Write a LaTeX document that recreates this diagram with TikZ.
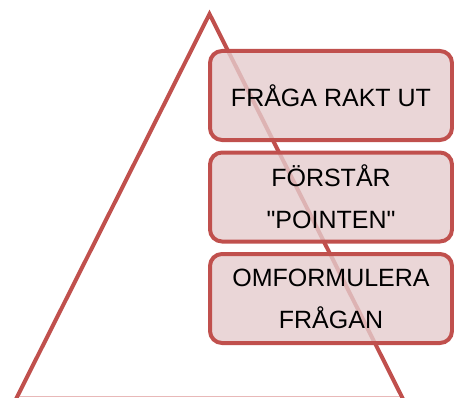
\documentclass[tikz,border=0pt]{standalone}
\usepackage{fontspec}
\setmainfont{Liberation Sans}
\usetikzlibrary{positioning}
\definecolor{pyrred}{RGB}{192,80,77}
\definecolor{pyrfill}{RGB}{229,204,205}
\definecolor{pyrbase}{RGB}{232,184,184}

\begin{document}
\begin{tikzpicture}[x=1pt,y=1pt,node distance=101.5pt,on grid,
		level/.style={draw=pyrred, line width=4pt, rounded corners=12pt,
			fill=pyrfill, fill opacity=0.8, text opacity=1,
			minimum width=242pt, minimum height=89pt, align=center,
			font=\fontsize{25}{42}\selectfont}]
			\useasboundingbox (0,0) rectangle (454,397);
			\clip (0,0) rectangle (454,397);
			% triangel
			\coordinate (top) at (209.5,383);
			\coordinate (left) at (16,-2);
			\coordinate (right) at (403,-2);
			\draw[pyrbase, line width=1pt] (16,0.5) -- (403,0.5);
			\draw[pyrred, line width=4pt] (left) -- (top) -- (right);
			% rutor
			\node[level] (fraga) at (331,301.5) {FRÅGA RAKT UT};
			\node[level] (forstar) [below=of fraga] {FÖRSTÅR\\\textquotedbl POINTEN\textquotedbl};
			\node[level] (omformulera) [below=of forstar] {OMFORMULERA\\FRÅGAN};
		\end{tikzpicture}
\end{document}
